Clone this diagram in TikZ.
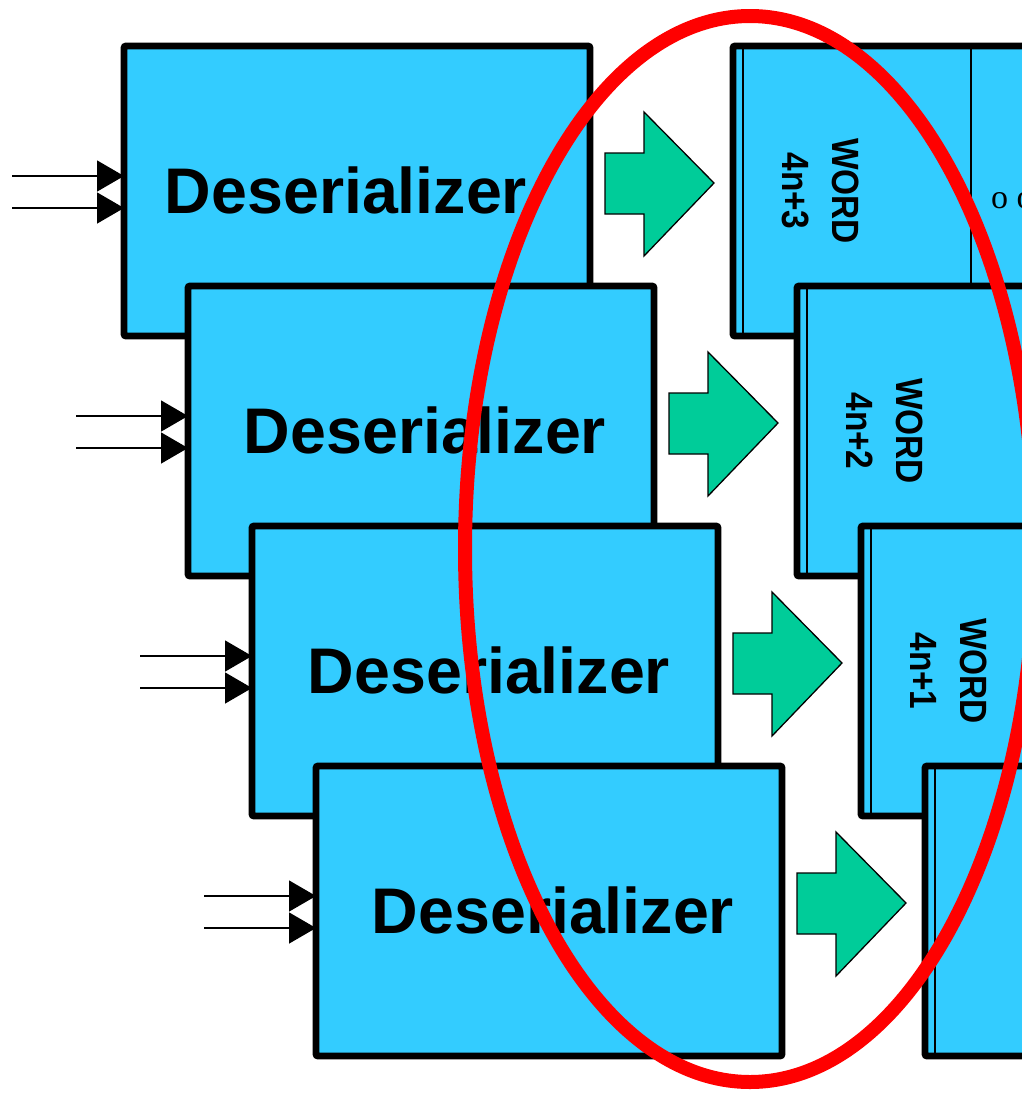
\documentclass[tikz,border=0pt]{standalone}
\usepackage{fontspec}
\usepackage{graphicx}
\setmainfont{Liberation Sans}
\newfontfamily\serifo{Liberation Serif}
\usetikzlibrary{arrows.meta}
\definecolor{boxblue}{HTML}{33CCFF}
\definecolor{arrgreen}{HTML}{00CC99}
\tikzset{
  desbox/.style={draw, line width=6.8pt, fill=boxblue, rounded corners=2pt,
    minimum width=466pt, minimum height=290pt, inner sep=0pt, outer sep=0pt, anchor=north west},
  wordbox/.style={draw, line width=6.8pt, fill=boxblue, rounded corners=2pt,
    minimum width=420pt, minimum height=290pt, inner sep=0pt, outer sep=0pt, anchor=north west},
  destext/.style={font=\bfseries\fontsize{64.5}{70}\selectfont, anchor=base, inner sep=0pt},
  wordtext/.style={font=\bfseries\fontsize{38}{50}\selectfont, align=center, rotate=-90, inner sep=0pt},
  thinline/.style={line width=1.5pt},
  bigarrow/.style={draw, line width=1.3pt, fill=arrgreen, line join=miter},
  inwire/.style={line width=1.5pt, -{Triangle[length=27pt,width=31pt]}},
  ring/.style={draw=red, line width=14pt}
}
\newcommand{\narrowtxt}[1]{\scalebox{0.88}[1]{#1}}
\begin{document}
\begin{tikzpicture}[x=1pt,y=-1pt]
\useasboundingbox (0,0) rectangle (1022,1093);
\clip (0,0) rectangle (1022,1093);
% deserializer boxes
\foreach \i/\tx in {0/346,1/425,2/489,3/553}{
  \node[desbox] (d\i) at ({124+64*\i},{46+240*\i}) {};
  \node[destext] (dt\i) at (\tx,{213+240*\i}) {Deserializer};
}
% word boxes (each with its inner lines, drawn before the next box)
\node[wordbox] (w0) at (733,46) {};
\draw[thinline] ([xshift=10pt,yshift=-3.4pt]w0.north west) -- ([xshift=10pt,yshift=3.4pt]w0.south west);
\draw[thinline] ([xshift=238pt,yshift=-3.4pt]w0.north west) -- ([xshift=238pt,yshift=3.4pt]w0.south west);
\node[font=\serifo\fontsize{34}{40}\selectfont, anchor=base west, inner sep=0pt] (dots) at (991,208) {o o o};
\node[wordtext] (wt0) at (821,191) {\narrowtxt{WORD}\\\narrowtxt{4n+3}};
\foreach \i/\lab in {1/4n+2,2/4n+1,3/}{
  \node[wordbox] (w\i) at ({733+64*\i},{46+240*\i}) {};
  \draw[thinline] ([xshift=10pt,yshift=-3.4pt]w\i.north west) -- ([xshift=10pt,yshift=3.4pt]w\i.south west);
}
\node[wordtext] (wt1) at ({733+64+88},{191+240}) {\narrowtxt{WORD}\\\narrowtxt{4n+2}};
\node[wordtext] (wt2) at ({733+128+88},{191+480}) {\narrowtxt{WORD}\\\narrowtxt{4n+1}};
% green arrows
\foreach \i in {0,1,2,3}{
  \begin{scope}[shift={({64*\i},{240*\i})}]
    \draw[bigarrow] (605,153) -- (644,153) -- (644,112) -- (714,183) -- (644,256) -- (644,214) -- (605,214) -- cycle;
  \end{scope}
}
% input wires
\foreach \i in {0,1,2,3}{
  \coordinate (ia\i) at ({12+64*\i},{176+240*\i});
  \coordinate (ib\i) at ({12+64*\i},{208+240*\i});
  \draw[inwire] (ia\i) -- (ia\i -| d\i.west);
  \draw[inwire] (ib\i) -- (ib\i -| d\i.west);
}
% red ellipse
\draw[ring] (750,549) ellipse [x radius=285, y radius=533];
\end{tikzpicture}
\end{document}
